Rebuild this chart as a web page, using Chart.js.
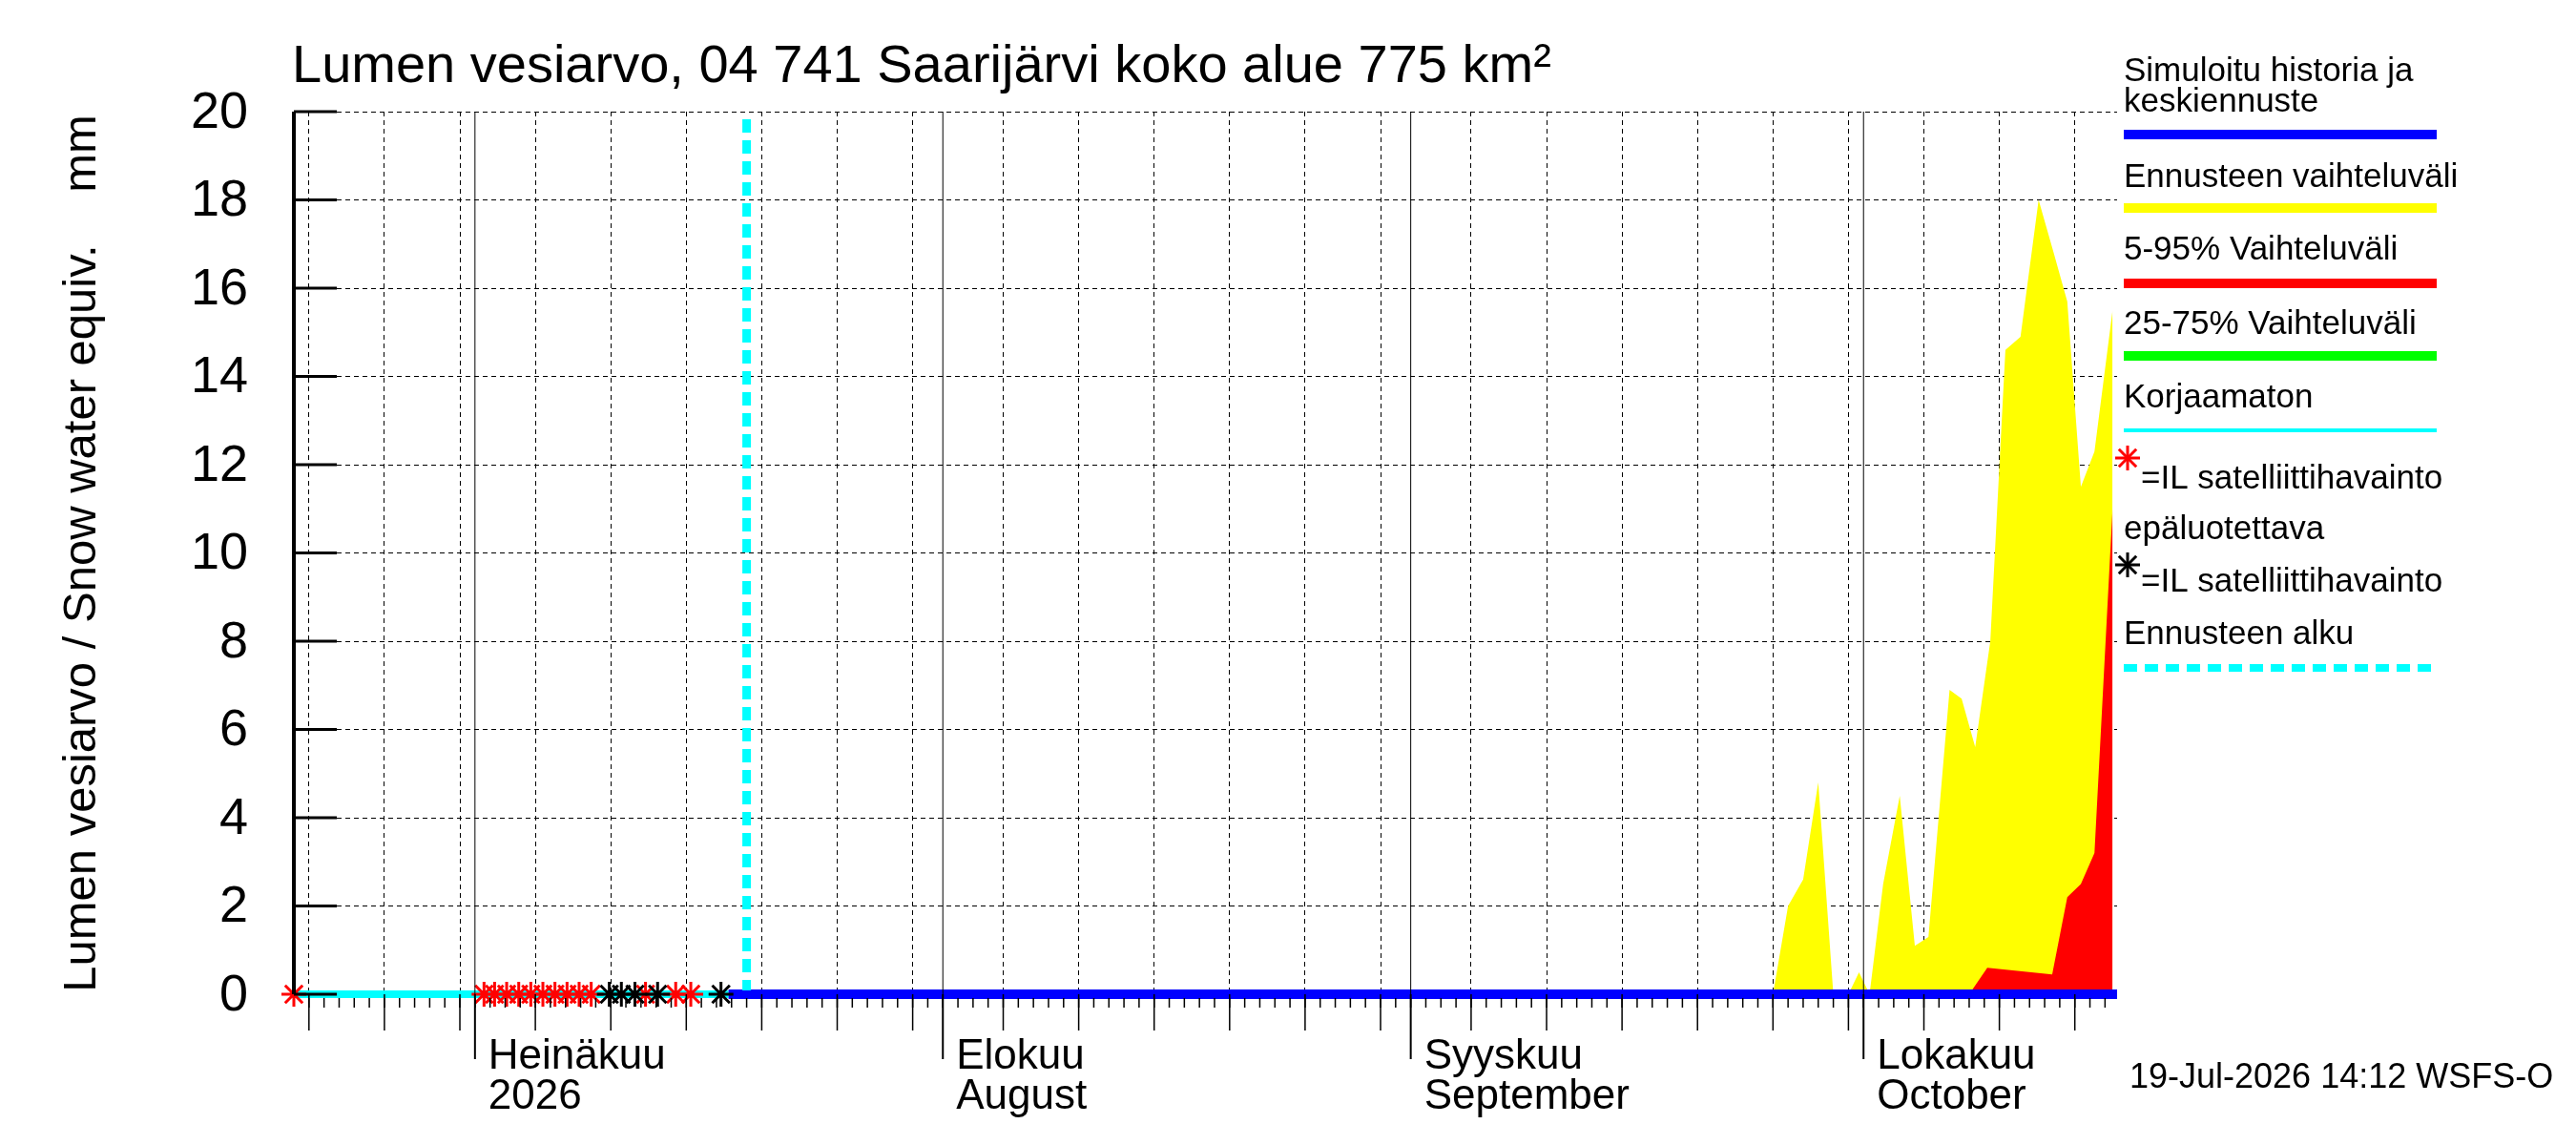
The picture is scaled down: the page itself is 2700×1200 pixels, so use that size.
<!DOCTYPE html>
<html>
<head>
<meta charset="utf-8">
<script src="https://cdn.jsdelivr.net/npm/chart.js@4"></script>
<style>
  body { margin: 0; background: #fff; }
  #wrap { width: 2700px; height: 1200px; position: relative; }
</style>
</head>
<body>
<div id="wrap"><canvas id="kuva"></canvas></div>
<script>
// x = päiviä 19.6.2026 alkaen
const otsikko = 'Lumen vesiarvo, 04 741 Saarijärvi koko alue 775 km²';
const yOtsikko = 'Lumen vesiarvo / Snow water equiv.    mm';
const yTicks = [0, 2, 4, 6, 8, 10, 12, 14, 16, 18, 20];
const ruudukkoPaivat = [1, 6, 11, 16, 21, 26, 31, 36, 41, 47, 52, 57, 62, 67, 72, 78, 83, 88, 93, 98, 103, 108, 113, 118];
const kuukausiPaivat = [12, 43, 74, 104];
const kuukausiNimet = [['Heinäkuu', '2026'], ['Elokuu', 'August'], ['Syyskuu', 'September'], ['Lokakuu', 'October']];
const ennusteAlku = 30;

const vaihteluPaivat = [97, 98, 99, 100, 101, 102, 103, 103.7, 104.4, 105.3, 106.4, 107.4, 108.3, 109.7, 110.5, 111.4, 112.4, 113.4, 114.4, 115.6, 116.6, 117.5, 118.4, 119.3, 120.5];
const vaihteluArvot = [0, 0, 2, 2.6, 4.8, 0, 0, 0.5, 0, 2.5, 4.5, 1.1, 1.3, 6.9, 6.7, 5.6, 8, 14.6, 14.9, 18, 16.8, 15.7, 11.5, 12.3, 15.5];
const p595Paivat = [97, 105.5, 106.2, 107, 111, 112.2, 116.5, 117.5, 118.4, 119.3, 120.5];
const p595Arvot = [0, 0, 0.1, 0, 0, 0.6, 0.45, 2.2, 2.5, 3.2, 11];
const keskiPaivat = [28.8, 120.8];
const keskiArvot = [0, 0];
const korjaamatonPaivat = [0, 28.8];
const korjaamatonArvot = [0, 0];
const punainenHavainto = [0, 12.6, 13.3, 14.1, 14.9, 15.7, 16.5, 17.3, 18.1, 18.9, 19.7, 23.3, 25.3, 26.3];
const mustaHavainto = [20.9, 21.7, 22.6, 24.1, 28.3];

const pisteet = (xs, ys) => xs.map((x, i) => ({ x: x, y: ys[i] }));
const fontti = '"Liberation Sans", Arial, sans-serif';

const piirrin = {
    id: 'piirrin',
    afterDraw(chart) {
        const c = chart.ctx, xs = chart.scales.x, ys = chart.scales.y, a = chart.chartArea;
        c.save();
        // akselit
        c.strokeStyle = '#000'; c.lineWidth = 4;
        c.beginPath(); c.moveTo(a.left, a.top); c.lineTo(a.left, a.bottom); c.stroke();
        c.lineWidth = 3;
        c.font = '54px ' + fontti; c.fillStyle = '#000'; c.textAlign = 'right'; c.textBaseline = 'middle';
        yTicks.forEach(v => {
            const y = ys.getPixelForValue(v);
            c.beginPath(); c.moveTo(a.left, y); c.lineTo(a.left + 45, y); c.stroke();
            c.fillText(String(v), a.left - 48, y + 2);
        });
        // päivätikit
        c.lineWidth = 1.5;
        for (let d = 1; d <= 120; d++) {
            const x = xs.getPixelForValue(d);
            c.beginPath(); c.moveTo(x, a.bottom + 4); c.lineTo(x, a.bottom + 14); c.stroke();
        }
        ruudukkoPaivat.forEach(d => {
            const x = xs.getPixelForValue(d);
            c.beginPath(); c.moveTo(x, a.bottom); c.lineTo(x, a.bottom + 38); c.stroke();
        });
        c.font = '44px ' + fontti; c.textAlign = 'left'; c.textBaseline = 'alphabetic';
        kuukausiPaivat.forEach((d, i) => {
            const x = xs.getPixelForValue(d);
            c.lineWidth = 1;
            c.beginPath(); c.moveTo(x, a.top); c.lineTo(x, a.bottom); c.stroke();
            c.lineWidth = 2;
            c.beginPath(); c.moveTo(x, a.bottom); c.lineTo(x, a.bottom + 68); c.stroke();
            c.fillText(kuukausiNimet[i][0], x + 14, a.bottom + 78);
            c.fillText(kuukausiNimet[i][1], x + 14, a.bottom + 120);
        });
        // ennusteen alku
        c.strokeStyle = '#00ffff'; c.lineWidth = 9; c.setLineDash([14, 8]);
        const xe = xs.getPixelForValue(ennusteAlku);
        c.beginPath(); c.moveTo(xe, a.top + 8); c.lineTo(xe, a.bottom - 4); c.stroke();
        c.setLineDash([]);
        // otsikot
        c.fillStyle = '#000'; c.font = '56px ' + fontti;
        c.fillText(otsikko, 306, 86);
        c.save(); c.translate(100, 580); c.rotate(-Math.PI / 2);
        c.textAlign = 'center'; c.font = '49px ' + fontti;
        c.fillText(yOtsikko, 0, 0); c.restore();
        // selite
        const lx = 2226, lw = 328;
        c.font = '35px ' + fontti;
        const teksti = (t, y, x) => c.fillText(t, x || lx, y);
        const viiva = (vari, y, w, dash) => {
            c.strokeStyle = vari; c.lineWidth = w; c.setLineDash(dash || []);
            c.beginPath(); c.moveTo(lx, y); c.lineTo(lx + lw, y); c.stroke(); c.setLineDash([]);
        };
        teksti('Simuloitu historia ja', 85); teksti('keskiennuste', 117); viiva('#0000ff', 141, 10);
        teksti('Ennusteen vaihteluväli', 196); viiva('#ffff00', 218, 10);
        teksti('5-95% Vaihteluväli', 272); viiva('#ff0000', 297, 10);
        teksti('25-75% Vaihteluväli', 350); viiva('#00ff00', 373, 10);
        teksti('Korjaamaton', 427); viiva('#00ffff', 451, 4);
        const tahti = (vari, x, y) => {
            c.strokeStyle = vari; c.lineWidth = 3;
            for (let k = 0; k < 4; k++) {
                const t = k * Math.PI / 4 + (k % 2 ? 0 : 0);
                c.beginPath(); c.moveTo(x - 13 * Math.cos(t), y - 13 * Math.sin(t)); c.lineTo(x + 13 * Math.cos(t), y + 13 * Math.sin(t)); c.stroke();
            }
        };
        tahti('#ff0000', 2230, 480); teksti('=IL satelliittihavainto', 512, 2244);
        teksti('epäluotettava', 565);
        tahti('#000000', 2230, 592); teksti('=IL satelliittihavainto', 620, 2244);
        teksti('Ennusteen alku', 675); viiva('#00ffff', 700, 8, [14, 8]);
        c.font = '36px ' + fontti;
        c.fillText('19-Jul-2026 14:12 WSFS-O', 2232, 1140);
        c.restore();
    }
};

new Chart(document.getElementById('kuva'), {
    type: 'line',
    data: {
        datasets: [
            { data: pisteet(vaihteluPaivat, vaihteluArvot), backgroundColor: '#ffff00', borderWidth: 0, fill: 'origin', pointRadius: 0, order: 5 },
            { data: pisteet(p595Paivat, p595Arvot), backgroundColor: '#ff0000', borderWidth: 0, fill: 'origin', pointRadius: 0, order: 4 },
            { data: pisteet(korjaamatonPaivat, korjaamatonArvot), borderColor: '#00ffff', borderWidth: 8, pointRadius: 0, clip: false, order: 3 },
            { data: pisteet(keskiPaivat, keskiArvot), borderColor: '#0000ff', borderWidth: 10, pointRadius: 0, clip: false, order: 2 },
            { data: punainenHavainto.map(x => ({ x: x, y: 0 })), showLine: false, pointStyle: 'star', pointRadius: 13, borderColor: '#ff0000', borderWidth: 3, clip: false, order: 1 },
            { data: mustaHavainto.map(x => ({ x: x, y: 0 })), showLine: false, pointStyle: 'star', pointRadius: 13, borderColor: '#000000', borderWidth: 3, clip: false, order: 0 }
        ]
    },
    options: {
        responsive: true, maintainAspectRatio: false, animation: false, devicePixelRatio: 1,
        layout: { padding: { left: 308, right: 481, top: 117, bottom: 158 } },
        plugins: { legend: { display: false }, tooltip: { enabled: false } },
        elements: { line: { tension: 0 } },
        scales: {
            x: {
                type: 'linear', min: 0, max: 120.8,
                afterBuildTicks: s => { s.ticks = ruudukkoPaivat.map(v => ({ value: v })); },
                ticks: { display: false },
                grid: { color: '#000', lineWidth: 1, tickLength: 0 },
                border: { display: false, dash: [5, 4] }
            },
            y: {
                min: 0, max: 20,
                afterBuildTicks: s => { s.ticks = yTicks.map(v => ({ value: v })); },
                ticks: { display: false },
                grid: { color: '#000', lineWidth: 1, tickLength: 0 },
                border: { display: false, dash: [5, 4] }
            }
        }
    },
    plugins: [piirrin]
});
</script>
</body>
</html>
